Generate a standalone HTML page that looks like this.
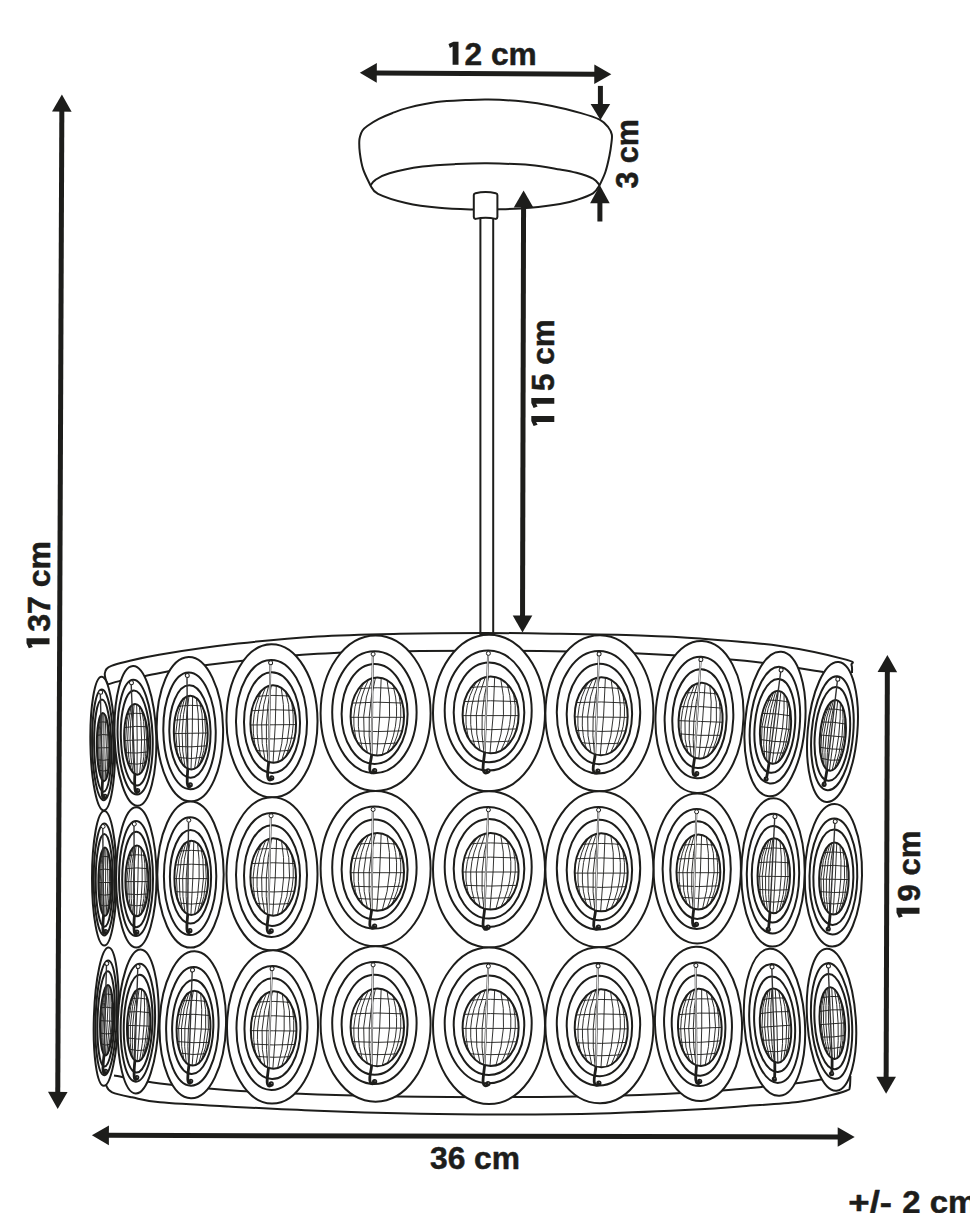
<!DOCTYPE html>
<html><head><meta charset="utf-8"><title>Lamp dimensions</title>
<style>html,body{margin:0;padding:0;background:#fff;}body{width:970px;height:1213px;overflow:hidden;font-family:"Liberation Sans",sans-serif;}svg{display:block;}</style>
</head><body>
<svg width="970" height="1213" viewBox="0 0 970 1213">
<rect width="970" height="1213" fill="#fff"/>
<path d="M370.5 185.6 C369.3 182.8 364.9 174.6 363.1 169.1 C361.3 163.6 360.4 157.3 359.8 152.6 C359.2 147.9 359.2 143.7 359.3 141.0 C359.4 138.3 359.6 137.9 360.1 136.2 C360.6 134.4 361.3 132.2 362.5 130.5 C363.7 128.8 364.6 127.9 367.3 126.0 C370.0 124.1 374.8 121.0 378.9 118.9 C383.0 116.8 387.2 115.0 392.0 113.2 C396.8 111.4 400.3 109.8 407.7 107.9 C415.1 106.1 427.0 103.4 436.6 102.1 C446.2 100.8 456.8 100.5 465.5 100.1 C474.2 99.7 479.0 99.3 488.6 99.5 C498.2 99.7 512.6 100.4 523.2 101.5 C533.8 102.6 542.4 104.0 552.0 105.9 C561.6 107.8 573.0 110.8 581.0 113.1 C589.0 115.4 595.1 117.3 599.7 119.7 C604.3 122.1 606.4 125.0 608.4 127.5 C610.4 130.0 611.3 132.0 611.8 134.5 C612.3 137.0 611.9 138.8 611.5 142.3 C611.1 145.8 610.5 150.6 609.5 155.5 C608.5 160.4 607.0 167.1 605.4 172.0 C603.8 176.9 600.6 183.0 599.6 185.2L599.6 185.2 C598.5 186.6 596.9 190.9 593.0 193.4 C589.1 195.9 582.0 198.2 576.5 200.0 C571.0 201.8 567.8 202.8 560.0 204.1 C552.2 205.4 540.0 206.9 530.0 207.8 C520.0 208.7 509.7 209.0 500.0 209.3 C490.3 209.6 482.2 209.8 472.0 209.5 C461.8 209.2 450.0 208.9 439.0 207.8 C428.0 206.7 416.2 205.2 406.0 202.9 C395.8 200.6 383.9 196.7 378.0 193.8 C372.1 190.9 371.8 187.0 370.5 185.6 Z" fill="#fff" stroke="#1d1d1b" stroke-width="2" stroke-linejoin="round"/>
<path d="M370.5 185.6 C371.3 184.6 372.3 181.9 375.5 179.8 C378.7 177.7 381.7 175.4 389.5 173.2 C397.3 171.0 411.5 168.1 422.5 166.6 C433.5 165.1 444.8 164.6 455.5 164.1 C466.2 163.6 474.6 163.2 487.0 163.3 C499.4 163.5 517.8 164.0 530.0 165.0 C542.2 166.0 552.2 168.2 560.0 169.5 C567.8 170.8 571.0 171.3 576.5 172.8 C582.0 174.3 589.1 176.5 593.0 178.6 C596.9 180.7 598.5 184.1 599.6 185.2" fill="none" stroke="#1d1d1b" stroke-width="2"/>
<rect x="480.4" y="216" width="12.8" height="418" fill="#fff" stroke="#1d1d1b" stroke-width="2"/>
<path d="M473.8 195 Q473.8 193.6 475.5 193.2 Q485.6 190.6 495.7 193.2 Q497.4 193.6 497.4 195 L497.4 217 Q497.4 218.6 495.7 218.9 Q485.6 216.4 475.5 218.9 Q473.8 218.6 473.8 217 Z" fill="#fff" stroke="#1d1d1b" stroke-width="2" stroke-linejoin="round"/>
<path d="M108.0 684.4 C107.6 683.5 106.1 680.8 105.6 679.0 C105.1 677.2 104.6 675.2 104.8 673.5 C105.0 671.8 105.4 670.3 106.5 669.0 C107.6 667.7 108.3 667.1 111.4 665.9 C114.5 664.7 117.1 663.9 125.0 662.0 C132.9 660.1 140.2 657.8 159.0 654.7 C177.8 651.6 211.6 646.6 238.0 643.6 C264.4 640.6 290.6 638.1 317.6 636.5 C344.6 634.9 372.1 634.4 400.0 633.8 C427.9 633.2 458.3 633.0 485.0 633.0 C511.7 633.0 534.2 633.4 560.0 633.8 C585.8 634.2 616.7 634.7 640.0 635.5 C663.3 636.3 676.7 636.8 700.0 638.5 C723.3 640.2 755.7 642.5 780.0 646.0 C804.3 649.5 834.1 656.4 846.0 659.6 C857.9 662.8 850.5 662.8 851.5 665.0 C852.5 667.2 851.9 671.7 852.0 673.0" fill="none" stroke="#1d1d1b" stroke-width="2"/>
<path d="M108.0 684.4 C109.9 683.9 113.5 682.5 119.3 681.1 C125.1 679.8 128.1 679.0 143.0 676.3 C157.9 673.6 179.6 668.5 208.7 664.8 C237.8 661.0 282.4 656.1 317.6 653.8 C352.8 651.5 382.9 651.5 420.0 651.0 C457.1 650.5 503.5 650.6 540.0 651.0 C576.5 651.4 604.8 651.8 639.0 653.4 C673.2 655.0 714.2 657.7 745.0 660.8 C775.8 663.9 810.6 670.1 823.7 672.0" fill="none" stroke="#1d1d1b" stroke-width="2"/>
<path d="M114.0 1075.5 C121.7 1076.8 141.3 1081.1 160.0 1083.5 C178.7 1085.9 199.7 1088.2 226.0 1090.0 C252.3 1091.8 285.3 1093.3 317.6 1094.4 C349.9 1095.5 382.9 1096.4 420.0 1096.8 C457.1 1097.2 503.3 1097.3 540.0 1097.0 C576.7 1096.7 613.3 1095.8 640.0 1095.0 C666.7 1094.2 683.3 1093.0 700.0 1092.0 C716.7 1091.0 729.7 1089.8 740.0 1089.0 C750.3 1088.2 752.2 1087.9 761.6 1086.9 C771.0 1086.0 786.7 1084.5 796.3 1083.3 C805.9 1082.1 810.4 1081.0 819.4 1079.7 C828.4 1078.4 844.9 1076.2 850.0 1075.5" fill="none" stroke="#1d1d1b" stroke-width="2"/>
<path d="M106.0 1076.0 C106.1 1077.6 105.4 1083.1 106.4 1085.8 C107.4 1088.5 107.9 1090.5 112.2 1092.4 C116.5 1094.3 124.0 1095.7 132.0 1097.3 C140.0 1098.9 143.9 1100.8 160.0 1102.3 C176.1 1103.8 202.2 1105.1 228.5 1106.5 C254.8 1107.9 285.7 1109.6 317.6 1110.8 C349.5 1112.0 389.6 1113.2 420.0 1113.8 C450.4 1114.4 470.0 1114.5 500.0 1114.5 C530.0 1114.5 566.7 1114.4 600.0 1113.5 C633.3 1112.6 676.7 1110.5 700.0 1109.3 C723.3 1108.1 723.7 1107.6 740.0 1106.4 C756.3 1105.2 783.3 1103.7 797.7 1102.0 C812.1 1100.3 818.4 1098.2 826.6 1096.3 C834.8 1094.4 842.9 1092.0 846.8 1090.5 C850.6 1089.0 849.1 1090.0 849.7 1087.6 C850.3 1085.2 850.3 1077.9 850.4 1076.0" fill="none" stroke="#1d1d1b" stroke-width="2"/>
<g transform="translate(102.7 743.6) rotate(-1.0)">
<ellipse rx="12.3" ry="66.8" fill="#fff" stroke="#1d1d1b" stroke-width="2.0"/>
<ellipse cx="0.0" cy="1.2" rx="10.6" ry="55.4" fill="none" stroke="#1d1d1b" stroke-width="2.0"/>
<ellipse cx="0.0" cy="2.1" rx="8.6" ry="46.1" fill="none" stroke="#1d1d1b" stroke-width="2.0"/>
<clipPath id="c1"><ellipse cx="0.6" cy="3.5" rx="6.5" ry="34.1"/></clipPath>
<ellipse cx="0.6" cy="3.5" rx="6.5" ry="34.1" fill="#fff" stroke="#1d1d1b" stroke-width="2.0"/>
<g clip-path="url(#c1)" fill="none" stroke="#1d1d1b" stroke-width="0.90">
<path d="M-5.9 -20.0 Q0.6 -23.4 7.1 -20.0"/>
<path d="M-5.9 -8.3 Q0.6 -9.8 7.1 -8.3"/>
<path d="M-5.9 4.2 Q0.6 4.2 7.1 4.2"/>
<path d="M-5.9 16.0 Q0.6 17.4 7.1 16.0"/>
<path d="M-5.9 26.1 Q0.6 28.8 7.1 26.1"/>
<path d="M-1.9 -30.6 Q-7.8 3.5 -3.0 37.6"/>
<path d="M-1.3 -30.6 Q-6.2 3.5 -2.4 37.6"/>
<path d="M-0.6 -30.6 Q-4.3 3.5 -1.7 37.6"/>
<path d="M0.2 -30.6 Q-2.3 3.5 -0.9 37.6"/>
<path d="M1.6 -30.6 Q1.4 3.5 0.5 37.6"/>
<path d="M2.9 -30.6 Q4.9 3.5 1.8 37.6"/>
<path d="M3.8 -30.6 Q7.3 3.5 2.7 37.6"/>
<path d="M4.4 -30.6 Q8.8 3.5 3.3 37.6"/>
</g>
<path d="M-1.5 -49.3 L-0.8 37.6" stroke="#333" stroke-width="1.40" fill="none"/>
<circle cx="-1.2" cy="-51.3" r="2.0" fill="#fff" stroke="#1d1d1b" stroke-width="1"/>
<path d="M-0.8 37.1 C-1.2 41.7 -1.7 47.8 -1.3 51.7 C-1.0 54.2 -0.3 55.3 1.0 54.2" stroke="#1d1d1b" stroke-width="2.8" fill="none" stroke-linecap="round"/>
<circle cx="1.3" cy="52.8" r="2.6" fill="#1d1d1b"/>
<circle cx="1.8" cy="52.3" r="0.6" fill="#888"/>
</g>
<g transform="translate(104.3 878.3) rotate(0.0)">
<ellipse rx="12.3" ry="67.3" fill="#fff" stroke="#1d1d1b" stroke-width="2.0"/>
<ellipse cx="0.0" cy="1.2" rx="10.6" ry="55.9" fill="none" stroke="#1d1d1b" stroke-width="2.0"/>
<ellipse cx="0.0" cy="2.1" rx="8.6" ry="46.4" fill="none" stroke="#1d1d1b" stroke-width="2.0"/>
<clipPath id="c2"><ellipse cx="0.6" cy="3.5" rx="6.5" ry="34.3"/></clipPath>
<ellipse cx="0.6" cy="3.5" rx="6.5" ry="34.3" fill="#fff" stroke="#1d1d1b" stroke-width="2.0"/>
<g clip-path="url(#c2)" fill="none" stroke="#1d1d1b" stroke-width="0.90">
<path d="M-5.9 -20.2 Q0.6 -23.6 7.1 -20.2"/>
<path d="M-5.9 -8.4 Q0.6 -9.9 7.1 -8.4"/>
<path d="M-5.9 4.2 Q0.6 4.2 7.1 4.2"/>
<path d="M-5.9 16.1 Q0.6 17.5 7.1 16.1"/>
<path d="M-5.9 26.3 Q0.6 29.0 7.1 26.3"/>
<path d="M-1.9 -30.8 Q-7.8 3.5 -3.0 37.8"/>
<path d="M-1.3 -30.8 Q-6.2 3.5 -2.4 37.8"/>
<path d="M-0.6 -30.8 Q-4.3 3.5 -1.7 37.8"/>
<path d="M0.2 -30.8 Q-2.3 3.5 -0.9 37.8"/>
<path d="M1.6 -30.8 Q1.4 3.5 0.5 37.8"/>
<path d="M2.9 -30.8 Q4.9 3.5 1.8 37.8"/>
<path d="M3.8 -30.8 Q7.3 3.5 2.7 37.8"/>
<path d="M4.4 -30.8 Q8.8 3.5 3.3 37.8"/>
</g>
<path d="M-1.5 -49.8 L-0.8 37.8" stroke="#333" stroke-width="1.40" fill="none"/>
<circle cx="-1.2" cy="-51.8" r="2.0" fill="#fff" stroke="#1d1d1b" stroke-width="1"/>
<path d="M-0.8 37.3 C-1.2 42.0 -1.7 48.2 -1.3 52.1 C-1.0 54.6 -0.3 55.8 1.0 54.6" stroke="#1d1d1b" stroke-width="2.8" fill="none" stroke-linecap="round"/>
<circle cx="1.3" cy="53.2" r="2.6" fill="#1d1d1b"/>
<circle cx="1.8" cy="52.7" r="0.6" fill="#888"/>
</g>
<g transform="translate(106.2 1016.7) rotate(2.0)">
<ellipse rx="12.3" ry="69.2" fill="#fff" stroke="#1d1d1b" stroke-width="2.0"/>
<ellipse cx="0.0" cy="1.2" rx="10.6" ry="57.4" fill="none" stroke="#1d1d1b" stroke-width="2.0"/>
<ellipse cx="0.0" cy="2.1" rx="8.6" ry="47.7" fill="none" stroke="#1d1d1b" stroke-width="2.0"/>
<clipPath id="c3"><ellipse cx="0.6" cy="3.5" rx="6.5" ry="35.3"/></clipPath>
<ellipse cx="0.6" cy="3.5" rx="6.5" ry="35.3" fill="#fff" stroke="#1d1d1b" stroke-width="2.0"/>
<g clip-path="url(#c3)" fill="none" stroke="#1d1d1b" stroke-width="0.90">
<path d="M-5.9 -20.9 Q0.6 -24.4 7.1 -20.9"/>
<path d="M-5.9 -8.7 Q0.6 -10.3 7.1 -8.7"/>
<path d="M-5.9 4.2 Q0.6 4.2 7.1 4.2"/>
<path d="M-5.9 16.5 Q0.6 17.9 7.1 16.5"/>
<path d="M-5.9 26.9 Q0.6 29.8 7.1 26.9"/>
<path d="M-1.9 -31.8 Q-7.8 3.5 -3.0 38.8"/>
<path d="M-1.3 -31.8 Q-6.2 3.5 -2.4 38.8"/>
<path d="M-0.6 -31.8 Q-4.3 3.5 -1.7 38.8"/>
<path d="M0.2 -31.8 Q-2.3 3.5 -0.9 38.8"/>
<path d="M1.6 -31.8 Q1.4 3.5 0.5 38.8"/>
<path d="M2.9 -31.8 Q4.9 3.5 1.8 38.8"/>
<path d="M3.8 -31.8 Q7.3 3.5 2.7 38.8"/>
<path d="M4.4 -31.8 Q8.8 3.5 3.3 38.8"/>
</g>
<path d="M-1.5 -51.3 L-0.8 38.8" stroke="#333" stroke-width="1.40" fill="none"/>
<circle cx="-1.2" cy="-53.3" r="2.0" fill="#fff" stroke="#1d1d1b" stroke-width="1"/>
<path d="M-0.8 38.3 C-1.2 43.1 -1.7 49.5 -1.3 53.5 C-1.0 56.2 -0.3 57.3 1.0 56.2" stroke="#1d1d1b" stroke-width="2.8" fill="none" stroke-linecap="round"/>
<circle cx="1.3" cy="54.7" r="2.6" fill="#1d1d1b"/>
<circle cx="1.8" cy="54.2" r="0.6" fill="#888"/>
</g>
<g transform="translate(832.5 732.0) rotate(5.0)">
<ellipse rx="24.8" ry="70.2" fill="#fff" stroke="#1d1d1b" stroke-width="2.0"/>
<ellipse cx="0.0" cy="1.2" rx="20.8" ry="57.2" fill="none" stroke="#1d1d1b" stroke-width="2.0"/>
<ellipse cx="0.0" cy="1.9" rx="17.4" ry="47.0" fill="none" stroke="#1d1d1b" stroke-width="2.0"/>
<clipPath id="c4"><ellipse cx="0.6" cy="3.3" rx="12.8" ry="35.5"/></clipPath>
<ellipse cx="0.6" cy="3.3" rx="12.8" ry="35.5" fill="#fff" stroke="#1d1d1b" stroke-width="2.0"/>
<g clip-path="url(#c4)" fill="none" stroke="#1d1d1b" stroke-width="0.90">
<path d="M-12.2 -21.2 Q0.6 -24.7 13.4 -21.2"/>
<path d="M-12.2 -9.0 Q0.6 -10.5 13.4 -9.0"/>
<path d="M-12.2 4.0 Q0.6 4.0 13.4 4.0"/>
<path d="M-12.2 16.3 Q0.6 17.7 13.4 16.3"/>
<path d="M-12.2 26.8 Q0.6 29.7 13.4 26.8"/>
<path d="M-4.3 -32.2 Q-15.9 3.3 -6.5 38.8"/>
<path d="M-3.1 -32.2 Q-12.8 3.3 -5.3 38.8"/>
<path d="M-1.7 -32.2 Q-9.1 3.3 -3.9 38.8"/>
<path d="M-0.3 -32.2 Q-5.2 3.3 -2.4 38.8"/>
<path d="M2.5 -32.2 Q2.1 3.3 0.3 38.8"/>
<path d="M5.1 -32.2 Q9.0 3.3 2.9 38.8"/>
<path d="M6.9 -32.2 Q13.8 3.3 4.8 38.8"/>
<path d="M8.1 -32.2 Q16.8 3.3 5.9 38.8"/>
</g>
<path d="M0.4 -51.1 L-2.2 38.8" stroke="#333" stroke-width="1.40" fill="none"/>
<circle cx="0.7" cy="-53.1" r="2.0" fill="#fff" stroke="#1d1d1b" stroke-width="1"/>
<path d="M-2.2 38.3 Q-2.6 45.6 -3.6 53.0" stroke="#1d1d1b" stroke-width="2.8" fill="none" stroke-linecap="round"/>
<circle cx="-3.8" cy="53.0" r="2.6" fill="#1d1d1b"/>
<circle cx="-3.3" cy="52.5" r="0.6" fill="#888"/>
</g>
<g transform="translate(833.4 875.3) rotate(1.0)">
<ellipse rx="28.6" ry="71.2" fill="#fff" stroke="#1d1d1b" stroke-width="2.0"/>
<ellipse cx="0.0" cy="1.2" rx="23.9" ry="58.0" fill="none" stroke="#1d1d1b" stroke-width="2.0"/>
<ellipse cx="0.0" cy="1.9" rx="20.0" ry="47.7" fill="none" stroke="#1d1d1b" stroke-width="2.0"/>
<clipPath id="c5"><ellipse cx="0.6" cy="3.3" rx="14.8" ry="36.0"/></clipPath>
<ellipse cx="0.6" cy="3.3" rx="14.8" ry="36.0" fill="#fff" stroke="#1d1d1b" stroke-width="2.0"/>
<g clip-path="url(#c5)" fill="none" stroke="#1d1d1b" stroke-width="0.90">
<path d="M-14.2 -21.5 Q0.6 -25.1 15.4 -21.5"/>
<path d="M-14.2 -9.1 Q0.6 -10.7 15.4 -9.1"/>
<path d="M-14.2 4.0 Q0.6 4.0 15.4 4.0"/>
<path d="M-14.2 16.5 Q0.6 17.9 15.4 16.5"/>
<path d="M-14.2 27.2 Q0.6 30.1 15.4 27.2"/>
<path d="M-5.1 -32.7 Q-18.5 3.3 -7.6 39.3"/>
<path d="M-3.7 -32.7 Q-14.8 3.3 -6.2 39.3"/>
<path d="M-2.1 -32.7 Q-10.5 3.3 -4.6 39.3"/>
<path d="M-0.4 -32.7 Q-6.0 3.3 -2.9 39.3"/>
<path d="M2.8 -32.7 Q2.3 3.3 0.3 39.3"/>
<path d="M5.8 -32.7 Q10.3 3.3 3.3 39.3"/>
<path d="M7.9 -32.7 Q15.8 3.3 5.4 39.3"/>
<path d="M9.2 -32.7 Q19.3 3.3 6.7 39.3"/>
</g>
<path d="M0.6 -51.9 L-2.6 39.3" stroke="#333" stroke-width="1.40" fill="none"/>
<circle cx="0.9" cy="-53.9" r="2.0" fill="#fff" stroke="#1d1d1b" stroke-width="1"/>
<path d="M-2.6 38.8 Q-3.0 46.3 -4.0 53.8" stroke="#1d1d1b" stroke-width="2.8" fill="none" stroke-linecap="round"/>
<circle cx="-4.2" cy="53.8" r="2.6" fill="#1d1d1b"/>
<circle cx="-3.7" cy="53.3" r="0.6" fill="#888"/>
</g>
<g transform="translate(831.5 1019.8) rotate(-4.0)">
<ellipse rx="24.3" ry="71.2" fill="#fff" stroke="#1d1d1b" stroke-width="2.0"/>
<ellipse cx="0.0" cy="1.2" rx="20.3" ry="58.0" fill="none" stroke="#1d1d1b" stroke-width="2.0"/>
<ellipse cx="0.0" cy="1.9" rx="17.0" ry="47.7" fill="none" stroke="#1d1d1b" stroke-width="2.0"/>
<clipPath id="c6"><ellipse cx="0.6" cy="3.3" rx="12.6" ry="36.0"/></clipPath>
<ellipse cx="0.6" cy="3.3" rx="12.6" ry="36.0" fill="#fff" stroke="#1d1d1b" stroke-width="2.0"/>
<g clip-path="url(#c6)" fill="none" stroke="#1d1d1b" stroke-width="0.90">
<path d="M-12.0 -21.5 Q0.6 -25.1 13.2 -21.5"/>
<path d="M-12.0 -9.1 Q0.6 -10.7 13.2 -9.1"/>
<path d="M-12.0 4.0 Q0.6 4.0 13.2 4.0"/>
<path d="M-12.0 16.5 Q0.6 17.9 13.2 16.5"/>
<path d="M-12.0 27.2 Q0.6 30.1 13.2 27.2"/>
<path d="M-4.2 -32.7 Q-15.6 3.3 -6.4 39.3"/>
<path d="M-3.1 -32.7 Q-12.5 3.3 -5.2 39.3"/>
<path d="M-1.7 -32.7 Q-8.9 3.3 -3.8 39.3"/>
<path d="M-0.2 -32.7 Q-5.0 3.3 -2.4 39.3"/>
<path d="M2.5 -32.7 Q2.1 3.3 0.3 39.3"/>
<path d="M5.0 -32.7 Q8.8 3.3 2.9 39.3"/>
<path d="M6.8 -32.7 Q13.5 3.3 4.7 39.3"/>
<path d="M7.9 -32.7 Q16.5 3.3 5.8 39.3"/>
</g>
<path d="M0.4 -51.9 L-2.1 39.3" stroke="#333" stroke-width="1.40" fill="none"/>
<circle cx="0.7" cy="-53.9" r="2.0" fill="#fff" stroke="#1d1d1b" stroke-width="1"/>
<path d="M-2.1 38.8 Q-2.5 46.3 -3.5 53.8" stroke="#1d1d1b" stroke-width="2.8" fill="none" stroke-linecap="round"/>
<circle cx="-3.7" cy="53.8" r="2.6" fill="#1d1d1b"/>
<circle cx="-3.2" cy="53.3" r="0.6" fill="#888"/>
</g>
<g transform="translate(135.4 735.9) rotate(-2.0)">
<ellipse rx="20.8" ry="70.0" fill="#fff" stroke="#1d1d1b" stroke-width="2.0"/>
<ellipse cx="-0.3" cy="1.2" rx="17.5" ry="57.4" fill="none" stroke="#1d1d1b" stroke-width="2.0"/>
<ellipse cx="0.0" cy="2.1" rx="14.6" ry="47.6" fill="none" stroke="#1d1d1b" stroke-width="2.0"/>
<clipPath id="c7"><ellipse cx="0.6" cy="3.5" rx="11.9" ry="35.3"/></clipPath>
<ellipse cx="0.6" cy="3.5" rx="11.9" ry="35.3" fill="#fff" stroke="#1d1d1b" stroke-width="2.0"/>
<g clip-path="url(#c7)" fill="none" stroke="#1d1d1b" stroke-width="0.90">
<path d="M-11.3 -20.8 Q0.6 -24.4 12.5 -20.8"/>
<path d="M-11.3 -8.7 Q0.6 -10.3 12.5 -8.7"/>
<path d="M-11.3 4.2 Q0.6 4.2 12.5 4.2"/>
<path d="M-11.3 16.4 Q0.6 17.9 12.5 16.4"/>
<path d="M-11.3 26.9 Q0.6 29.7 12.5 26.9"/>
<path d="M-4.0 -31.8 Q-14.7 3.5 -6.0 38.8"/>
<path d="M-2.9 -31.8 Q-11.8 3.5 -4.9 38.8"/>
<path d="M-1.6 -31.8 Q-8.3 3.5 -3.6 38.8"/>
<path d="M-0.2 -31.8 Q-4.7 3.5 -2.2 38.8"/>
<path d="M2.4 -31.8 Q2.0 3.5 0.3 38.8"/>
<path d="M4.8 -31.8 Q8.3 3.5 2.8 38.8"/>
<path d="M6.5 -31.8 Q12.8 3.5 4.4 38.8"/>
<path d="M7.5 -31.8 Q15.6 3.5 5.5 38.8"/>
</g>
<path d="M-2.4 -51.3 L-1.9 38.8" stroke="#333" stroke-width="1.40" fill="none"/>
<circle cx="-2.1" cy="-53.3" r="2.0" fill="#fff" stroke="#1d1d1b" stroke-width="1"/>
<path d="M-1.9 38.3 C-2.3 43.2 -2.6 49.5 -2.2 53.5 C-1.9 56.2 -1.1 57.4 0.2 56.2" stroke="#1d1d1b" stroke-width="2.8" fill="none" stroke-linecap="round"/>
<circle cx="0.4" cy="54.7" r="2.6" fill="#1d1d1b"/>
<circle cx="0.9" cy="54.2" r="0.6" fill="#888"/>
</g>
<g transform="translate(136.3 877.4) rotate(0.0)">
<ellipse rx="20.2" ry="70.1" fill="#fff" stroke="#1d1d1b" stroke-width="2.0"/>
<ellipse cx="-0.3" cy="1.2" rx="17.0" ry="57.5" fill="none" stroke="#1d1d1b" stroke-width="2.0"/>
<ellipse cx="0.0" cy="2.1" rx="14.1" ry="47.7" fill="none" stroke="#1d1d1b" stroke-width="2.0"/>
<clipPath id="c8"><ellipse cx="0.6" cy="3.5" rx="11.5" ry="35.3"/></clipPath>
<ellipse cx="0.6" cy="3.5" rx="11.5" ry="35.3" fill="#fff" stroke="#1d1d1b" stroke-width="2.0"/>
<g clip-path="url(#c8)" fill="none" stroke="#1d1d1b" stroke-width="0.90">
<path d="M-10.9 -20.9 Q0.6 -24.4 12.1 -20.9"/>
<path d="M-10.9 -8.7 Q0.6 -10.3 12.1 -8.7"/>
<path d="M-10.9 4.2 Q0.6 4.2 12.1 4.2"/>
<path d="M-10.9 16.5 Q0.6 17.9 12.1 16.5"/>
<path d="M-10.9 27.0 Q0.6 29.8 12.1 27.0"/>
<path d="M-3.8 -31.8 Q-14.2 3.5 -5.8 38.8"/>
<path d="M-2.8 -31.8 Q-11.4 3.5 -4.7 38.8"/>
<path d="M-1.5 -31.8 Q-8.1 3.5 -3.5 38.8"/>
<path d="M-0.2 -31.8 Q-4.6 3.5 -2.1 38.8"/>
<path d="M2.3 -31.8 Q1.9 3.5 0.3 38.8"/>
<path d="M4.6 -31.8 Q8.1 3.5 2.7 38.8"/>
<path d="M6.3 -31.8 Q12.5 3.5 4.3 38.8"/>
<path d="M7.3 -31.8 Q15.1 3.5 5.3 38.8"/>
</g>
<path d="M-2.3 -51.4 L-1.9 38.8" stroke="#333" stroke-width="1.40" fill="none"/>
<circle cx="-2.0" cy="-53.4" r="2.0" fill="#fff" stroke="#1d1d1b" stroke-width="1"/>
<path d="M-1.9 38.3 C-2.3 43.2 -2.5 49.6 -2.1 53.6 C-1.8 56.3 -1.1 57.4 0.2 56.3" stroke="#1d1d1b" stroke-width="2.8" fill="none" stroke-linecap="round"/>
<circle cx="0.5" cy="54.7" r="2.6" fill="#1d1d1b"/>
<circle cx="1.0" cy="54.2" r="0.6" fill="#888"/>
</g>
<g transform="translate(138.2 1021.5) rotate(2.0)">
<ellipse rx="20.4" ry="72.0" fill="#fff" stroke="#1d1d1b" stroke-width="2.0"/>
<ellipse cx="-0.3" cy="1.2" rx="17.1" ry="59.0" fill="none" stroke="#1d1d1b" stroke-width="2.0"/>
<ellipse cx="0.0" cy="2.1" rx="14.3" ry="49.0" fill="none" stroke="#1d1d1b" stroke-width="2.0"/>
<clipPath id="c9"><ellipse cx="0.6" cy="3.5" rx="11.6" ry="36.3"/></clipPath>
<ellipse cx="0.6" cy="3.5" rx="11.6" ry="36.3" fill="#fff" stroke="#1d1d1b" stroke-width="2.0"/>
<g clip-path="url(#c9)" fill="none" stroke="#1d1d1b" stroke-width="0.90">
<path d="M-11.0 -21.5 Q0.6 -25.2 12.2 -21.5"/>
<path d="M-11.0 -9.1 Q0.6 -10.7 12.2 -9.1"/>
<path d="M-11.0 4.2 Q0.6 4.2 12.2 4.2"/>
<path d="M-11.0 16.8 Q0.6 18.3 12.2 16.8"/>
<path d="M-11.0 27.6 Q0.6 30.5 12.2 27.6"/>
<path d="M-3.9 -32.8 Q-14.4 3.5 -5.9 39.8"/>
<path d="M-2.8 -32.8 Q-11.5 3.5 -4.8 39.8"/>
<path d="M-1.5 -32.8 Q-8.2 3.5 -3.5 39.8"/>
<path d="M-0.2 -32.8 Q-4.6 3.5 -2.2 39.8"/>
<path d="M2.3 -32.8 Q2.0 3.5 0.3 39.8"/>
<path d="M4.7 -32.8 Q8.2 3.5 2.7 39.8"/>
<path d="M6.4 -32.8 Q12.6 3.5 4.4 39.8"/>
<path d="M7.4 -32.8 Q15.3 3.5 5.4 39.8"/>
</g>
<path d="M-2.3 -52.9 L-1.9 39.8" stroke="#333" stroke-width="1.40" fill="none"/>
<circle cx="-2.0" cy="-54.9" r="2.0" fill="#fff" stroke="#1d1d1b" stroke-width="1"/>
<path d="M-1.9 39.3 C-2.3 44.3 -2.5 50.9 -2.1 55.0 C-1.8 57.8 -1.1 59.0 0.2 57.8" stroke="#1d1d1b" stroke-width="2.8" fill="none" stroke-linecap="round"/>
<circle cx="0.5" cy="56.2" r="2.6" fill="#1d1d1b"/>
<circle cx="1.0" cy="55.7" r="0.6" fill="#888"/>
</g>
<g transform="translate(775.0 724.0) rotate(5.0)">
<ellipse rx="30.0" ry="72.5" fill="#fff" stroke="#1d1d1b" stroke-width="2.0"/>
<ellipse cx="0.0" cy="1.2" rx="24.8" ry="58.5" fill="none" stroke="#1d1d1b" stroke-width="2.0"/>
<ellipse cx="0.0" cy="1.9" rx="20.1" ry="47.1" fill="none" stroke="#1d1d1b" stroke-width="2.0"/>
<clipPath id="c10"><ellipse cx="0.8" cy="3.3" rx="15.3" ry="36.6"/></clipPath>
<ellipse cx="0.8" cy="3.3" rx="15.3" ry="36.6" fill="#fff" stroke="#1d1d1b" stroke-width="2.0"/>
<g clip-path="url(#c10)" fill="none" stroke="#1d1d1b" stroke-width="0.90">
<path d="M-14.5 -22.0 Q0.8 -25.6 16.1 -22.0"/>
<path d="M-14.5 -9.4 Q0.8 -11.0 16.1 -9.4"/>
<path d="M-14.5 4.0 Q0.8 4.0 16.1 4.0"/>
<path d="M-14.5 16.7 Q0.8 18.2 16.1 16.7"/>
<path d="M-14.5 27.6 Q0.8 30.5 16.1 27.6"/>
<path d="M-5.1 -33.3 Q-18.9 3.3 -7.7 39.9"/>
<path d="M-3.7 -33.3 Q-15.2 3.3 -6.3 39.9"/>
<path d="M-2.0 -33.3 Q-10.7 3.3 -4.6 39.9"/>
<path d="M-0.2 -33.3 Q-6.1 3.3 -2.8 39.9"/>
<path d="M3.1 -33.3 Q2.6 3.3 0.5 39.9"/>
<path d="M6.2 -33.3 Q10.8 3.3 3.6 39.9"/>
<path d="M8.4 -33.3 Q16.6 3.3 5.8 39.9"/>
<path d="M9.7 -33.3 Q20.1 3.3 7.1 39.9"/>
</g>
<path d="M1.1 -52.4 L-2.5 39.9" stroke="#333" stroke-width="1.40" fill="none"/>
<circle cx="1.4" cy="-54.4" r="2.0" fill="#fff" stroke="#1d1d1b" stroke-width="1"/>
<path d="M-2.5 39.4 Q-2.9 47.6 -3.9 55.8" stroke="#1d1d1b" stroke-width="2.8" fill="none" stroke-linecap="round"/>
<circle cx="-4.1" cy="55.8" r="2.6" fill="#1d1d1b"/>
<circle cx="-3.6" cy="55.3" r="0.6" fill="#888"/>
</g>
<g transform="translate(773.0 872.4) rotate(0.5)">
<ellipse rx="31.7" ry="74.2" fill="#fff" stroke="#1d1d1b" stroke-width="2.0"/>
<ellipse cx="0.0" cy="1.2" rx="26.2" ry="59.9" fill="none" stroke="#1d1d1b" stroke-width="2.0"/>
<ellipse cx="0.0" cy="1.9" rx="21.2" ry="48.2" fill="none" stroke="#1d1d1b" stroke-width="2.0"/>
<clipPath id="c11"><ellipse cx="0.8" cy="3.3" rx="16.2" ry="37.5"/></clipPath>
<ellipse cx="0.8" cy="3.3" rx="16.2" ry="37.5" fill="#fff" stroke="#1d1d1b" stroke-width="2.0"/>
<g clip-path="url(#c11)" fill="none" stroke="#1d1d1b" stroke-width="0.90">
<path d="M-15.4 -22.6 Q0.8 -26.3 17.0 -22.6"/>
<path d="M-15.4 -9.7 Q0.8 -11.3 17.0 -9.7"/>
<path d="M-15.4 4.0 Q0.8 4.0 17.0 4.0"/>
<path d="M-15.4 17.1 Q0.8 18.6 17.0 17.1"/>
<path d="M-15.4 28.2 Q0.8 31.2 17.0 28.2"/>
<path d="M-5.4 -34.2 Q-20.0 3.3 -8.2 40.8"/>
<path d="M-3.9 -34.2 Q-16.1 3.3 -6.7 40.8"/>
<path d="M-2.1 -34.2 Q-11.4 3.3 -4.9 40.8"/>
<path d="M-0.3 -34.2 Q-6.5 3.3 -3.0 40.8"/>
<path d="M3.2 -34.2 Q2.7 3.3 0.4 40.8"/>
<path d="M6.5 -34.2 Q11.4 3.3 3.7 40.8"/>
<path d="M8.8 -34.2 Q17.5 3.3 6.0 40.8"/>
<path d="M10.2 -34.2 Q21.2 3.3 7.5 40.8"/>
</g>
<path d="M1.2 -53.8 L-2.7 40.8" stroke="#333" stroke-width="1.40" fill="none"/>
<circle cx="1.5" cy="-55.8" r="2.0" fill="#fff" stroke="#1d1d1b" stroke-width="1"/>
<path d="M-2.7 40.3 Q-3.1 48.7 -4.1 57.1" stroke="#1d1d1b" stroke-width="2.8" fill="none" stroke-linecap="round"/>
<circle cx="-4.3" cy="57.1" r="2.6" fill="#1d1d1b"/>
<circle cx="-3.8" cy="56.6" r="0.6" fill="#888"/>
</g>
<g transform="translate(774.5 1022.3) rotate(-4.0)">
<ellipse rx="30.3" ry="73.7" fill="#fff" stroke="#1d1d1b" stroke-width="2.0"/>
<ellipse cx="0.0" cy="1.2" rx="25.1" ry="59.5" fill="none" stroke="#1d1d1b" stroke-width="2.0"/>
<ellipse cx="0.0" cy="1.9" rx="20.3" ry="47.9" fill="none" stroke="#1d1d1b" stroke-width="2.0"/>
<clipPath id="c12"><ellipse cx="0.8" cy="3.3" rx="15.5" ry="37.2"/></clipPath>
<ellipse cx="0.8" cy="3.3" rx="15.5" ry="37.2" fill="#fff" stroke="#1d1d1b" stroke-width="2.0"/>
<g clip-path="url(#c12)" fill="none" stroke="#1d1d1b" stroke-width="0.90">
<path d="M-14.7 -22.4 Q0.8 -26.1 16.3 -22.4"/>
<path d="M-14.7 -9.6 Q0.8 -11.2 16.3 -9.6"/>
<path d="M-14.7 4.0 Q0.8 4.0 16.3 4.0"/>
<path d="M-14.7 17.0 Q0.8 18.4 16.3 17.0"/>
<path d="M-14.7 28.0 Q0.8 31.0 16.3 28.0"/>
<path d="M-5.2 -33.9 Q-19.1 3.3 -7.8 40.5"/>
<path d="M-3.7 -33.9 Q-15.3 3.3 -6.3 40.5"/>
<path d="M-2.0 -33.9 Q-10.8 3.3 -4.6 40.5"/>
<path d="M-0.2 -33.9 Q-6.1 3.3 -2.9 40.5"/>
<path d="M3.1 -33.9 Q2.6 3.3 0.5 40.5"/>
<path d="M6.2 -33.9 Q10.9 3.3 3.6 40.5"/>
<path d="M8.4 -33.9 Q16.7 3.3 5.8 40.5"/>
<path d="M9.8 -33.9 Q20.3 3.3 7.2 40.5"/>
</g>
<path d="M1.1 -53.4 L-2.5 40.5" stroke="#333" stroke-width="1.40" fill="none"/>
<circle cx="1.4" cy="-55.4" r="2.0" fill="#fff" stroke="#1d1d1b" stroke-width="1"/>
<path d="M-2.5 40.0 Q-2.9 48.4 -3.9 56.7" stroke="#1d1d1b" stroke-width="2.8" fill="none" stroke-linecap="round"/>
<circle cx="-4.1" cy="56.7" r="2.6" fill="#1d1d1b"/>
<circle cx="-3.6" cy="56.2" r="0.6" fill="#888"/>
</g>
<g transform="translate(189.9 729.3) rotate(-1.0)">
<ellipse rx="33.2" ry="72.2" fill="#fff" stroke="#1d1d1b" stroke-width="2.0"/>
<ellipse cx="-0.4" cy="1.6" rx="26.2" ry="58.3" fill="none" stroke="#1d1d1b" stroke-width="2.0"/>
<ellipse cx="0.0" cy="2.2" rx="20.6" ry="46.2" fill="none" stroke="#1d1d1b" stroke-width="2.0"/>
<clipPath id="c13"><ellipse cx="0.8" cy="3.3" rx="16.9" ry="36.8"/></clipPath>
<ellipse cx="0.8" cy="3.3" rx="16.9" ry="36.8" fill="#fff" stroke="#1d1d1b" stroke-width="2.0"/>
<g clip-path="url(#c13)" fill="none" stroke="#1d1d1b" stroke-width="0.90">
<path d="M-16.1 -22.1 Q0.8 -25.8 17.7 -22.1"/>
<path d="M-16.1 -9.4 Q0.8 -11.1 17.7 -9.4"/>
<path d="M-16.1 4.0 Q0.8 4.0 17.7 4.0"/>
<path d="M-16.1 16.8 Q0.8 18.3 17.7 16.8"/>
<path d="M-16.1 27.7 Q0.8 30.7 17.7 27.7"/>
<path d="M-5.7 -33.5 Q-21.0 3.3 -8.6 40.1"/>
<path d="M-4.1 -33.5 Q-16.9 3.3 -7.0 40.1"/>
<path d="M-2.3 -33.5 Q-11.9 3.3 -5.2 40.1"/>
<path d="M-0.3 -33.5 Q-6.8 3.3 -3.2 40.1"/>
<path d="M3.3 -33.5 Q2.8 3.3 0.4 40.1"/>
<path d="M6.8 -33.5 Q11.9 3.3 3.9 40.1"/>
<path d="M9.2 -33.5 Q18.2 3.3 6.3 40.1"/>
<path d="M10.7 -33.5 Q22.2 3.3 7.8 40.1"/>
</g>
<path d="M-2.0 -51.8 L-2.8 40.1" stroke="#333" stroke-width="1.40" fill="none"/>
<circle cx="-1.7" cy="-53.8" r="2.0" fill="#fff" stroke="#1d1d1b" stroke-width="1"/>
<path d="M-2.8 39.6 C-3.2 44.7 -3.9 50.2 -3.5 54.3 C-3.2 57.1 -2.3 58.3 -0.9 57.1" stroke="#1d1d1b" stroke-width="2.8" fill="none" stroke-linecap="round"/>
<circle cx="-0.6" cy="55.5" r="2.6" fill="#1d1d1b"/>
<circle cx="-0.1" cy="55.0" r="0.6" fill="#888"/>
</g>
<g transform="translate(190.5 874.6) rotate(0.0)">
<ellipse rx="33.2" ry="73.0" fill="#fff" stroke="#1d1d1b" stroke-width="2.0"/>
<ellipse cx="-0.4" cy="1.6" rx="26.2" ry="58.9" fill="none" stroke="#1d1d1b" stroke-width="2.0"/>
<ellipse cx="0.0" cy="2.2" rx="20.6" ry="46.7" fill="none" stroke="#1d1d1b" stroke-width="2.0"/>
<clipPath id="c14"><ellipse cx="0.8" cy="3.3" rx="16.9" ry="37.2"/></clipPath>
<ellipse cx="0.8" cy="3.3" rx="16.9" ry="37.2" fill="#fff" stroke="#1d1d1b" stroke-width="2.0"/>
<g clip-path="url(#c14)" fill="none" stroke="#1d1d1b" stroke-width="0.90">
<path d="M-16.1 -22.4 Q0.8 -26.1 17.7 -22.4"/>
<path d="M-16.1 -9.6 Q0.8 -11.2 17.7 -9.6"/>
<path d="M-16.1 4.0 Q0.8 4.0 17.7 4.0"/>
<path d="M-16.1 17.0 Q0.8 18.5 17.7 17.0"/>
<path d="M-16.1 28.0 Q0.8 31.0 17.7 28.0"/>
<path d="M-5.7 -33.9 Q-21.0 3.3 -8.6 40.5"/>
<path d="M-4.1 -33.9 Q-16.9 3.3 -7.0 40.5"/>
<path d="M-2.3 -33.9 Q-11.9 3.3 -5.2 40.5"/>
<path d="M-0.3 -33.9 Q-6.8 3.3 -3.2 40.5"/>
<path d="M3.3 -33.9 Q2.8 3.3 0.4 40.5"/>
<path d="M6.8 -33.9 Q11.9 3.3 3.9 40.5"/>
<path d="M9.2 -33.9 Q18.2 3.3 6.3 40.5"/>
<path d="M10.7 -33.9 Q22.2 3.3 7.8 40.5"/>
</g>
<path d="M-2.0 -52.4 L-2.8 40.5" stroke="#333" stroke-width="1.40" fill="none"/>
<circle cx="-1.7" cy="-54.4" r="2.0" fill="#fff" stroke="#1d1d1b" stroke-width="1"/>
<path d="M-2.8 40.0 C-3.2 45.1 -3.9 50.7 -3.5 54.9 C-3.2 57.7 -2.3 58.9 -0.9 57.7" stroke="#1d1d1b" stroke-width="2.8" fill="none" stroke-linecap="round"/>
<circle cx="-0.6" cy="56.1" r="2.6" fill="#1d1d1b"/>
<circle cx="-0.1" cy="55.6" r="0.6" fill="#888"/>
</g>
<g transform="translate(192.8 1024.8) rotate(1.5)">
<ellipse rx="33.2" ry="73.5" fill="#fff" stroke="#1d1d1b" stroke-width="2.0"/>
<ellipse cx="-0.4" cy="1.6" rx="26.2" ry="59.3" fill="none" stroke="#1d1d1b" stroke-width="2.0"/>
<ellipse cx="0.0" cy="2.2" rx="20.6" ry="47.0" fill="none" stroke="#1d1d1b" stroke-width="2.0"/>
<clipPath id="c15"><ellipse cx="0.8" cy="3.3" rx="16.9" ry="37.5"/></clipPath>
<ellipse cx="0.8" cy="3.3" rx="16.9" ry="37.5" fill="#fff" stroke="#1d1d1b" stroke-width="2.0"/>
<g clip-path="url(#c15)" fill="none" stroke="#1d1d1b" stroke-width="0.90">
<path d="M-16.1 -22.6 Q0.8 -26.3 17.7 -22.6"/>
<path d="M-16.1 -9.7 Q0.8 -11.3 17.7 -9.7"/>
<path d="M-16.1 4.0 Q0.8 4.0 17.7 4.0"/>
<path d="M-16.1 17.1 Q0.8 18.6 17.7 17.1"/>
<path d="M-16.1 28.2 Q0.8 31.2 17.7 28.2"/>
<path d="M-5.7 -34.2 Q-21.0 3.3 -8.6 40.8"/>
<path d="M-4.1 -34.2 Q-16.9 3.3 -7.0 40.8"/>
<path d="M-2.3 -34.2 Q-11.9 3.3 -5.2 40.8"/>
<path d="M-0.3 -34.2 Q-6.8 3.3 -3.2 40.8"/>
<path d="M3.3 -34.2 Q2.8 3.3 0.4 40.8"/>
<path d="M6.8 -34.2 Q11.9 3.3 3.9 40.8"/>
<path d="M9.2 -34.2 Q18.2 3.3 6.3 40.8"/>
<path d="M10.7 -34.2 Q22.2 3.3 7.8 40.8"/>
</g>
<path d="M-2.0 -52.8 L-2.8 40.8" stroke="#333" stroke-width="1.40" fill="none"/>
<circle cx="-1.7" cy="-54.8" r="2.0" fill="#fff" stroke="#1d1d1b" stroke-width="1"/>
<path d="M-2.8 40.3 C-3.2 45.4 -3.9 51.1 -3.5 55.3 C-3.2 58.1 -2.3 59.4 -0.9 58.1" stroke="#1d1d1b" stroke-width="2.8" fill="none" stroke-linecap="round"/>
<circle cx="-0.6" cy="56.5" r="2.6" fill="#1d1d1b"/>
<circle cx="-0.1" cy="56.0" r="0.6" fill="#888"/>
</g>
<g transform="translate(699.5 717.0) rotate(2.0)">
<ellipse rx="44.0" ry="76.0" fill="#fff" stroke="#1d1d1b" stroke-width="2.0"/>
<ellipse cx="-0.5" cy="0.5" rx="34.3" ry="60.8" fill="none" stroke="#1d1d1b" stroke-width="2.0"/>
<ellipse cx="0.0" cy="1.7" rx="27.1" ry="49.4" fill="none" stroke="#1d1d1b" stroke-width="2.0"/>
<clipPath id="c16"><ellipse cx="1.2" cy="3.6" rx="22.0" ry="38.0"/></clipPath>
<ellipse cx="1.2" cy="3.6" rx="22.0" ry="38.0" fill="#fff" stroke="#1d1d1b" stroke-width="2.0"/>
<g clip-path="url(#c16)" fill="none" stroke="#1d1d1b" stroke-width="0.90">
<path d="M-20.8 -22.6 Q1.2 -26.4 23.2 -22.6"/>
<path d="M-20.8 -9.6 Q1.2 -11.2 23.2 -9.6"/>
<path d="M-20.8 4.4 Q1.2 4.4 23.2 4.4"/>
<path d="M-20.8 17.5 Q1.2 19.1 23.2 17.5"/>
<path d="M-20.8 28.8 Q1.2 31.9 23.2 28.8"/>
<path d="M-7.3 -34.4 Q-27.2 3.6 -11.0 41.6"/>
<path d="M-5.2 -34.4 Q-21.7 3.6 -9.0 41.6"/>
<path d="M-2.8 -34.4 Q-15.4 3.6 -6.5 41.6"/>
<path d="M-0.3 -34.4 Q-8.7 3.6 -4.0 41.6"/>
<path d="M4.5 -34.4 Q3.8 3.6 0.7 41.6"/>
<path d="M8.9 -34.4 Q15.6 3.6 5.2 41.6"/>
<path d="M12.1 -34.4 Q23.9 3.6 8.3 41.6"/>
<path d="M14.0 -34.4 Q29.0 3.6 10.3 41.6"/>
</g>
<path d="M-0.9 -55.4 L-3.5 41.6" stroke="#333" stroke-width="2.00" fill="none"/>
<path d="M-0.9 -55.4 L-3.5 40.6" stroke="#fff" stroke-width="0.90" fill="none"/>
<circle cx="-0.6" cy="-57.4" r="2.0" fill="#fff" stroke="#1d1d1b" stroke-width="1"/>
<path d="M-3.5 41.1 C-3.9 46.4 -5.0 51.0 -4.6 55.4 C-4.3 58.3 -3.1 59.5 -1.2 58.3" stroke="#1d1d1b" stroke-width="2.8" fill="none" stroke-linecap="round"/>
<circle cx="-0.8" cy="56.6" r="2.6" fill="#1d1d1b"/>
<circle cx="-0.3" cy="56.1" r="0.6" fill="#888"/>
</g>
<g transform="translate(697.2 868.4) rotate(0.0)">
<ellipse rx="43.7" ry="75.0" fill="#fff" stroke="#1d1d1b" stroke-width="2.0"/>
<ellipse cx="-0.5" cy="0.5" rx="34.1" ry="60.0" fill="none" stroke="#1d1d1b" stroke-width="2.0"/>
<ellipse cx="0.0" cy="1.7" rx="26.9" ry="48.8" fill="none" stroke="#1d1d1b" stroke-width="2.0"/>
<clipPath id="c17"><ellipse cx="1.2" cy="3.6" rx="21.9" ry="37.5"/></clipPath>
<ellipse cx="1.2" cy="3.6" rx="21.9" ry="37.5" fill="#fff" stroke="#1d1d1b" stroke-width="2.0"/>
<g clip-path="url(#c17)" fill="none" stroke="#1d1d1b" stroke-width="0.90">
<path d="M-20.7 -22.3 Q1.2 -26.0 23.1 -22.3"/>
<path d="M-20.7 -9.4 Q1.2 -11.0 23.1 -9.4"/>
<path d="M-20.7 4.3 Q1.2 4.3 23.1 4.3"/>
<path d="M-20.7 17.4 Q1.2 18.9 23.1 17.4"/>
<path d="M-20.7 28.5 Q1.2 31.5 23.1 28.5"/>
<path d="M-7.2 -33.9 Q-27.0 3.6 -10.9 41.1"/>
<path d="M-5.2 -33.9 Q-21.6 3.6 -8.9 41.1"/>
<path d="M-2.8 -33.9 Q-15.3 3.6 -6.5 41.1"/>
<path d="M-0.3 -33.9 Q-8.6 3.6 -4.0 41.1"/>
<path d="M4.4 -33.9 Q3.8 3.6 0.7 41.1"/>
<path d="M8.9 -33.9 Q15.5 3.6 5.2 41.1"/>
<path d="M12.0 -33.9 Q23.7 3.6 8.3 41.1"/>
<path d="M13.9 -33.9 Q28.8 3.6 10.2 41.1"/>
</g>
<path d="M-0.9 -54.6 L-3.5 41.1" stroke="#333" stroke-width="2.00" fill="none"/>
<path d="M-0.9 -54.6 L-3.5 40.1" stroke="#fff" stroke-width="0.90" fill="none"/>
<circle cx="-0.6" cy="-56.6" r="2.0" fill="#fff" stroke="#1d1d1b" stroke-width="1"/>
<path d="M-3.5 40.6 C-3.9 45.9 -5.0 50.3 -4.6 54.6 C-4.3 57.5 -3.1 58.8 -1.2 57.5" stroke="#1d1d1b" stroke-width="2.8" fill="none" stroke-linecap="round"/>
<circle cx="-0.8" cy="55.9" r="2.6" fill="#1d1d1b"/>
<circle cx="-0.3" cy="55.4" r="0.6" fill="#888"/>
</g>
<g transform="translate(698.5 1023.8) rotate(-2.0)">
<ellipse rx="43.5" ry="77.2" fill="#fff" stroke="#1d1d1b" stroke-width="2.0"/>
<ellipse cx="-0.5" cy="0.5" rx="33.9" ry="61.8" fill="none" stroke="#1d1d1b" stroke-width="2.0"/>
<ellipse cx="0.0" cy="1.7" rx="26.8" ry="50.2" fill="none" stroke="#1d1d1b" stroke-width="2.0"/>
<clipPath id="c18"><ellipse cx="1.2" cy="3.6" rx="21.8" ry="38.6"/></clipPath>
<ellipse cx="1.2" cy="3.6" rx="21.8" ry="38.6" fill="#fff" stroke="#1d1d1b" stroke-width="2.0"/>
<g clip-path="url(#c18)" fill="none" stroke="#1d1d1b" stroke-width="0.90">
<path d="M-20.6 -23.0 Q1.2 -26.9 22.9 -23.0"/>
<path d="M-20.6 -9.8 Q1.2 -11.5 22.9 -9.8"/>
<path d="M-20.6 4.4 Q1.2 4.4 22.9 4.4"/>
<path d="M-20.6 17.8 Q1.2 19.3 22.9 17.8"/>
<path d="M-20.6 29.2 Q1.2 32.3 22.9 29.2"/>
<path d="M-7.2 -35.0 Q-26.8 3.6 -10.9 42.2"/>
<path d="M-5.2 -35.0 Q-21.5 3.6 -8.8 42.2"/>
<path d="M-2.8 -35.0 Q-15.2 3.6 -6.5 42.2"/>
<path d="M-0.2 -35.0 Q-8.6 3.6 -3.9 42.2"/>
<path d="M4.4 -35.0 Q3.7 3.6 0.7 42.2"/>
<path d="M8.8 -35.0 Q15.4 3.6 5.1 42.2"/>
<path d="M12.0 -35.0 Q23.6 3.6 8.3 42.2"/>
<path d="M13.9 -35.0 Q28.7 3.6 10.2 42.2"/>
</g>
<path d="M-0.9 -56.4 L-3.5 42.2" stroke="#333" stroke-width="2.00" fill="none"/>
<path d="M-0.9 -56.4 L-3.5 41.2" stroke="#fff" stroke-width="0.90" fill="none"/>
<circle cx="-0.6" cy="-58.4" r="2.0" fill="#fff" stroke="#1d1d1b" stroke-width="1"/>
<path d="M-3.5 41.7 C-3.9 47.1 -5.0 51.8 -4.6 56.2 C-4.3 59.2 -3.1 60.5 -1.2 59.2" stroke="#1d1d1b" stroke-width="2.8" fill="none" stroke-linecap="round"/>
<circle cx="-0.8" cy="57.5" r="2.6" fill="#1d1d1b"/>
<circle cx="-0.3" cy="57.0" r="0.6" fill="#888"/>
</g>
<g transform="translate(272.0 720.9) rotate(-0.5)">
<ellipse rx="45.5" ry="76.7" fill="#fff" stroke="#1d1d1b" stroke-width="2.0"/>
<ellipse cx="-0.5" cy="1.0" rx="35.5" ry="62.0" fill="none" stroke="#1d1d1b" stroke-width="2.0"/>
<ellipse cx="0.0" cy="1.7" rx="28.0" ry="50.4" fill="none" stroke="#1d1d1b" stroke-width="2.0"/>
<clipPath id="c19"><ellipse cx="1.2" cy="3.1" rx="22.8" ry="38.7"/></clipPath>
<ellipse cx="1.2" cy="3.1" rx="22.8" ry="38.7" fill="#fff" stroke="#1d1d1b" stroke-width="2.0"/>
<g clip-path="url(#c19)" fill="none" stroke="#1d1d1b" stroke-width="0.90">
<path d="M-21.6 -23.6 Q1.2 -27.4 23.9 -23.6"/>
<path d="M-21.6 -10.3 Q1.2 -12.0 23.9 -10.3"/>
<path d="M-21.6 3.9 Q1.2 3.9 23.9 3.9"/>
<path d="M-21.6 17.3 Q1.2 18.8 23.9 17.3"/>
<path d="M-21.6 28.8 Q1.2 31.9 23.9 28.8"/>
<path d="M-7.6 -35.6 Q-28.1 3.1 -11.4 41.8"/>
<path d="M-5.4 -35.6 Q-22.5 3.1 -9.3 41.8"/>
<path d="M-2.9 -35.6 Q-15.9 3.1 -6.8 41.8"/>
<path d="M-0.3 -35.6 Q-9.0 3.1 -4.2 41.8"/>
<path d="M4.6 -35.6 Q3.9 3.1 0.7 41.8"/>
<path d="M9.2 -35.6 Q16.1 3.1 5.3 41.8"/>
<path d="M12.4 -35.6 Q24.6 3.1 8.6 41.8"/>
<path d="M14.5 -35.6 Q29.9 3.1 10.6 41.8"/>
</g>
<path d="M-1.2 -56.1 L-3.7 41.8" stroke="#333" stroke-width="2.00" fill="none"/>
<path d="M-1.2 -56.1 L-3.7 40.8" stroke="#fff" stroke-width="0.90" fill="none"/>
<circle cx="-0.9" cy="-58.1" r="2.0" fill="#fff" stroke="#1d1d1b" stroke-width="1"/>
<path d="M-3.7 41.3 C-4.1 46.6 -5.2 51.3 -4.8 55.7 C-4.5 58.7 -3.2 59.9 -1.2 58.7" stroke="#1d1d1b" stroke-width="2.8" fill="none" stroke-linecap="round"/>
<circle cx="-0.8" cy="57.0" r="2.6" fill="#1d1d1b"/>
<circle cx="-0.3" cy="56.5" r="0.6" fill="#888"/>
</g>
<g transform="translate(272.0 873.9) rotate(0.0)">
<ellipse rx="45.5" ry="76.7" fill="#fff" stroke="#1d1d1b" stroke-width="2.0"/>
<ellipse cx="-0.5" cy="1.0" rx="35.5" ry="62.0" fill="none" stroke="#1d1d1b" stroke-width="2.0"/>
<ellipse cx="0.0" cy="1.7" rx="28.0" ry="50.4" fill="none" stroke="#1d1d1b" stroke-width="2.0"/>
<clipPath id="c20"><ellipse cx="1.2" cy="3.1" rx="22.8" ry="38.7"/></clipPath>
<ellipse cx="1.2" cy="3.1" rx="22.8" ry="38.7" fill="#fff" stroke="#1d1d1b" stroke-width="2.0"/>
<g clip-path="url(#c20)" fill="none" stroke="#1d1d1b" stroke-width="0.90">
<path d="M-21.6 -23.6 Q1.2 -27.4 23.9 -23.6"/>
<path d="M-21.6 -10.3 Q1.2 -12.0 23.9 -10.3"/>
<path d="M-21.6 3.9 Q1.2 3.9 23.9 3.9"/>
<path d="M-21.6 17.3 Q1.2 18.8 23.9 17.3"/>
<path d="M-21.6 28.8 Q1.2 31.9 23.9 28.8"/>
<path d="M-7.6 -35.6 Q-28.1 3.1 -11.4 41.8"/>
<path d="M-5.4 -35.6 Q-22.5 3.1 -9.3 41.8"/>
<path d="M-2.9 -35.6 Q-15.9 3.1 -6.8 41.8"/>
<path d="M-0.3 -35.6 Q-9.0 3.1 -4.2 41.8"/>
<path d="M4.6 -35.6 Q3.9 3.1 0.7 41.8"/>
<path d="M9.2 -35.6 Q16.1 3.1 5.3 41.8"/>
<path d="M12.4 -35.6 Q24.6 3.1 8.6 41.8"/>
<path d="M14.5 -35.6 Q29.9 3.1 10.6 41.8"/>
</g>
<path d="M-1.2 -56.1 L-3.7 41.8" stroke="#333" stroke-width="2.00" fill="none"/>
<path d="M-1.2 -56.1 L-3.7 40.8" stroke="#fff" stroke-width="0.90" fill="none"/>
<circle cx="-0.9" cy="-58.1" r="2.0" fill="#fff" stroke="#1d1d1b" stroke-width="1"/>
<path d="M-3.7 41.3 C-4.1 46.6 -5.2 51.3 -4.8 55.7 C-4.5 58.7 -3.2 59.9 -1.2 58.7" stroke="#1d1d1b" stroke-width="2.8" fill="none" stroke-linecap="round"/>
<circle cx="-0.8" cy="57.0" r="2.6" fill="#1d1d1b"/>
<circle cx="-0.3" cy="56.5" r="0.6" fill="#888"/>
</g>
<g transform="translate(272.5 1026.9) rotate(0.5)">
<ellipse rx="45.5" ry="76.7" fill="#fff" stroke="#1d1d1b" stroke-width="2.0"/>
<ellipse cx="-0.5" cy="1.0" rx="35.5" ry="62.0" fill="none" stroke="#1d1d1b" stroke-width="2.0"/>
<ellipse cx="0.0" cy="1.7" rx="28.0" ry="50.4" fill="none" stroke="#1d1d1b" stroke-width="2.0"/>
<clipPath id="c21"><ellipse cx="1.2" cy="3.1" rx="22.8" ry="38.7"/></clipPath>
<ellipse cx="1.2" cy="3.1" rx="22.8" ry="38.7" fill="#fff" stroke="#1d1d1b" stroke-width="2.0"/>
<g clip-path="url(#c21)" fill="none" stroke="#1d1d1b" stroke-width="0.90">
<path d="M-21.6 -23.6 Q1.2 -27.4 23.9 -23.6"/>
<path d="M-21.6 -10.3 Q1.2 -12.0 23.9 -10.3"/>
<path d="M-21.6 3.9 Q1.2 3.9 23.9 3.9"/>
<path d="M-21.6 17.3 Q1.2 18.8 23.9 17.3"/>
<path d="M-21.6 28.8 Q1.2 31.9 23.9 28.8"/>
<path d="M-7.6 -35.6 Q-28.1 3.1 -11.4 41.8"/>
<path d="M-5.4 -35.6 Q-22.5 3.1 -9.3 41.8"/>
<path d="M-2.9 -35.6 Q-15.9 3.1 -6.8 41.8"/>
<path d="M-0.3 -35.6 Q-9.0 3.1 -4.2 41.8"/>
<path d="M4.6 -35.6 Q3.9 3.1 0.7 41.8"/>
<path d="M9.2 -35.6 Q16.1 3.1 5.3 41.8"/>
<path d="M12.4 -35.6 Q24.6 3.1 8.6 41.8"/>
<path d="M14.5 -35.6 Q29.9 3.1 10.6 41.8"/>
</g>
<path d="M-1.2 -56.1 L-3.7 41.8" stroke="#333" stroke-width="2.00" fill="none"/>
<path d="M-1.2 -56.1 L-3.7 40.8" stroke="#fff" stroke-width="0.90" fill="none"/>
<circle cx="-0.9" cy="-58.1" r="2.0" fill="#fff" stroke="#1d1d1b" stroke-width="1"/>
<path d="M-3.7 41.3 C-4.1 46.6 -5.2 51.3 -4.8 55.7 C-4.5 58.7 -3.2 59.9 -1.2 58.7" stroke="#1d1d1b" stroke-width="2.8" fill="none" stroke-linecap="round"/>
<circle cx="-0.8" cy="57.0" r="2.6" fill="#1d1d1b"/>
<circle cx="-0.3" cy="56.5" r="0.6" fill="#888"/>
</g>
<g transform="translate(599.4 713.3) rotate(0.5)">
<ellipse rx="54.0" ry="78.0" fill="#fff" stroke="#1d1d1b" stroke-width="2.0"/>
<ellipse cx="-0.9" cy="-1.0" rx="41.7" ry="61.2" fill="none" stroke="#1d1d1b" stroke-width="2.0"/>
<ellipse cx="0.0" cy="0.7" rx="32.7" ry="50.2" fill="none" stroke="#1d1d1b" stroke-width="2.0"/>
<clipPath id="c22"><ellipse cx="1.8" cy="3.0" rx="26.5" ry="39.0"/></clipPath>
<ellipse cx="1.8" cy="3.0" rx="26.5" ry="39.0" fill="#fff" stroke="#1d1d1b" stroke-width="2.0"/>
<g clip-path="url(#c22)" fill="none" stroke="#1d1d1b" stroke-width="0.90">
<path d="M-24.7 -23.9 Q1.8 -27.8 28.3 -23.9"/>
<path d="M-24.7 -10.5 Q1.8 -12.2 28.3 -10.5"/>
<path d="M-24.7 3.8 Q1.8 3.8 28.3 3.8"/>
<path d="M-24.7 17.3 Q1.8 18.9 28.3 17.3"/>
<path d="M-24.7 28.9 Q1.8 32.0 28.3 28.9"/>
<path d="M-8.4 -36.0 Q-32.3 3.0 -12.9 42.0"/>
<path d="M-5.9 -36.0 Q-25.8 3.0 -10.4 42.0"/>
<path d="M-3.0 -36.0 Q-18.1 3.0 -7.5 42.0"/>
<path d="M0.0 -36.0 Q-10.1 3.0 -4.5 42.0"/>
<path d="M5.7 -36.0 Q4.9 3.0 1.2 42.0"/>
<path d="M11.1 -36.0 Q19.1 3.0 6.6 42.0"/>
<path d="M14.9 -36.0 Q29.1 3.0 10.4 42.0"/>
<path d="M17.2 -36.0 Q35.2 3.0 12.7 42.0"/>
</g>
<path d="M-1.1 -57.3 L-3.9 42.0" stroke="#333" stroke-width="2.00" fill="none"/>
<path d="M-1.1 -57.3 L-3.9 41.0" stroke="#fff" stroke-width="0.90" fill="none"/>
<circle cx="-0.8" cy="-59.3" r="2.0" fill="#fff" stroke="#1d1d1b" stroke-width="1"/>
<path d="M-3.9 41.5 C-4.3 47.0 -6.1 51.9 -5.7 56.4 C-5.4 59.4 -3.8 60.7 -1.4 59.4" stroke="#1d1d1b" stroke-width="2.8" fill="none" stroke-linecap="round"/>
<circle cx="-1.0" cy="57.7" r="2.6" fill="#1d1d1b"/>
<circle cx="-0.5" cy="57.2" r="0.6" fill="#888"/>
</g>
<g transform="translate(599.4 869.3) rotate(0.0)">
<ellipse rx="54.0" ry="78.0" fill="#fff" stroke="#1d1d1b" stroke-width="2.0"/>
<ellipse cx="-0.9" cy="-1.0" rx="41.7" ry="61.2" fill="none" stroke="#1d1d1b" stroke-width="2.0"/>
<ellipse cx="0.0" cy="0.7" rx="32.7" ry="50.2" fill="none" stroke="#1d1d1b" stroke-width="2.0"/>
<clipPath id="c23"><ellipse cx="1.8" cy="3.0" rx="26.5" ry="39.0"/></clipPath>
<ellipse cx="1.8" cy="3.0" rx="26.5" ry="39.0" fill="#fff" stroke="#1d1d1b" stroke-width="2.0"/>
<g clip-path="url(#c23)" fill="none" stroke="#1d1d1b" stroke-width="0.90">
<path d="M-24.7 -23.9 Q1.8 -27.8 28.3 -23.9"/>
<path d="M-24.7 -10.5 Q1.8 -12.2 28.3 -10.5"/>
<path d="M-24.7 3.8 Q1.8 3.8 28.3 3.8"/>
<path d="M-24.7 17.3 Q1.8 18.9 28.3 17.3"/>
<path d="M-24.7 28.9 Q1.8 32.0 28.3 28.9"/>
<path d="M-8.4 -36.0 Q-32.3 3.0 -12.9 42.0"/>
<path d="M-5.9 -36.0 Q-25.8 3.0 -10.4 42.0"/>
<path d="M-3.0 -36.0 Q-18.1 3.0 -7.5 42.0"/>
<path d="M0.0 -36.0 Q-10.1 3.0 -4.5 42.0"/>
<path d="M5.7 -36.0 Q4.9 3.0 1.2 42.0"/>
<path d="M11.1 -36.0 Q19.1 3.0 6.6 42.0"/>
<path d="M14.9 -36.0 Q29.1 3.0 10.4 42.0"/>
<path d="M17.2 -36.0 Q35.2 3.0 12.7 42.0"/>
</g>
<path d="M-1.1 -57.3 L-3.9 42.0" stroke="#333" stroke-width="2.00" fill="none"/>
<path d="M-1.1 -57.3 L-3.9 41.0" stroke="#fff" stroke-width="0.90" fill="none"/>
<circle cx="-0.8" cy="-59.3" r="2.0" fill="#fff" stroke="#1d1d1b" stroke-width="1"/>
<path d="M-3.9 41.5 C-4.3 47.0 -6.1 51.9 -5.7 56.4 C-5.4 59.4 -3.8 60.7 -1.4 59.4" stroke="#1d1d1b" stroke-width="2.8" fill="none" stroke-linecap="round"/>
<circle cx="-1.0" cy="57.7" r="2.6" fill="#1d1d1b"/>
<circle cx="-0.5" cy="57.2" r="0.6" fill="#888"/>
</g>
<g transform="translate(599.4 1025.3) rotate(-0.5)">
<ellipse rx="54.0" ry="78.0" fill="#fff" stroke="#1d1d1b" stroke-width="2.0"/>
<ellipse cx="-0.9" cy="-1.0" rx="41.7" ry="61.2" fill="none" stroke="#1d1d1b" stroke-width="2.0"/>
<ellipse cx="0.0" cy="0.7" rx="32.7" ry="50.2" fill="none" stroke="#1d1d1b" stroke-width="2.0"/>
<clipPath id="c24"><ellipse cx="1.8" cy="3.0" rx="26.5" ry="39.0"/></clipPath>
<ellipse cx="1.8" cy="3.0" rx="26.5" ry="39.0" fill="#fff" stroke="#1d1d1b" stroke-width="2.0"/>
<g clip-path="url(#c24)" fill="none" stroke="#1d1d1b" stroke-width="0.90">
<path d="M-24.7 -23.9 Q1.8 -27.8 28.3 -23.9"/>
<path d="M-24.7 -10.5 Q1.8 -12.2 28.3 -10.5"/>
<path d="M-24.7 3.8 Q1.8 3.8 28.3 3.8"/>
<path d="M-24.7 17.3 Q1.8 18.9 28.3 17.3"/>
<path d="M-24.7 28.9 Q1.8 32.0 28.3 28.9"/>
<path d="M-8.4 -36.0 Q-32.3 3.0 -12.9 42.0"/>
<path d="M-5.9 -36.0 Q-25.8 3.0 -10.4 42.0"/>
<path d="M-3.0 -36.0 Q-18.1 3.0 -7.5 42.0"/>
<path d="M0.0 -36.0 Q-10.1 3.0 -4.5 42.0"/>
<path d="M5.7 -36.0 Q4.9 3.0 1.2 42.0"/>
<path d="M11.1 -36.0 Q19.1 3.0 6.6 42.0"/>
<path d="M14.9 -36.0 Q29.1 3.0 10.4 42.0"/>
<path d="M17.2 -36.0 Q35.2 3.0 12.7 42.0"/>
</g>
<path d="M-1.1 -57.3 L-3.9 42.0" stroke="#333" stroke-width="2.00" fill="none"/>
<path d="M-1.1 -57.3 L-3.9 41.0" stroke="#fff" stroke-width="0.90" fill="none"/>
<circle cx="-0.8" cy="-59.3" r="2.0" fill="#fff" stroke="#1d1d1b" stroke-width="1"/>
<path d="M-3.9 41.5 C-4.3 47.0 -6.1 51.9 -5.7 56.4 C-5.4 59.4 -3.8 60.7 -1.4 59.4" stroke="#1d1d1b" stroke-width="2.8" fill="none" stroke-linecap="round"/>
<circle cx="-1.0" cy="57.7" r="2.6" fill="#1d1d1b"/>
<circle cx="-0.5" cy="57.2" r="0.6" fill="#888"/>
</g>
<g transform="translate(375.6 713.2) rotate(0.0)">
<ellipse rx="55.0" ry="77.7" fill="#fff" stroke="#1d1d1b" stroke-width="2.0"/>
<ellipse cx="-1.2" cy="-1.0" rx="42.2" ry="61.0" fill="none" stroke="#1d1d1b" stroke-width="2.0"/>
<ellipse cx="-1.0" cy="0.8" rx="33.0" ry="50.0" fill="none" stroke="#1d1d1b" stroke-width="2.0"/>
<clipPath id="c25"><ellipse cx="1.7" cy="3.3" rx="26.7" ry="38.9"/></clipPath>
<ellipse cx="1.7" cy="3.3" rx="26.7" ry="38.9" fill="#fff" stroke="#1d1d1b" stroke-width="2.0"/>
<g clip-path="url(#c25)" fill="none" stroke="#1d1d1b" stroke-width="0.90">
<path d="M-25.0 -23.5 Q1.7 -27.4 28.4 -23.5"/>
<path d="M-25.0 -10.1 Q1.7 -11.9 28.4 -10.1"/>
<path d="M-25.0 4.1 Q1.7 4.1 28.4 4.1"/>
<path d="M-25.0 17.6 Q1.7 19.1 28.4 17.6"/>
<path d="M-25.0 29.1 Q1.7 32.2 28.4 29.1"/>
<path d="M-8.6 -35.6 Q-32.7 3.3 -13.1 42.1"/>
<path d="M-6.1 -35.6 Q-26.1 3.3 -10.6 42.1"/>
<path d="M-3.2 -35.6 Q-18.4 3.3 -7.7 42.1"/>
<path d="M-0.1 -35.6 Q-10.3 3.3 -4.6 42.1"/>
<path d="M5.6 -35.6 Q4.8 3.3 1.1 42.1"/>
<path d="M11.1 -35.6 Q19.1 3.3 6.5 42.1"/>
<path d="M14.9 -35.6 Q29.2 3.3 10.4 42.1"/>
<path d="M17.2 -35.6 Q35.4 3.3 12.7 42.1"/>
</g>
<path d="M-2.8 -57.1 L-4.0 42.1" stroke="#333" stroke-width="2.00" fill="none"/>
<path d="M-2.8 -57.1 L-4.0 41.1" stroke="#fff" stroke-width="0.90" fill="none"/>
<circle cx="-2.5" cy="-59.1" r="2.0" fill="#fff" stroke="#1d1d1b" stroke-width="1"/>
<path d="M-4.0 41.6 C-4.4 47.1 -6.2 51.7 -5.8 56.2 C-5.5 59.2 -3.9 60.5 -1.5 59.2" stroke="#1d1d1b" stroke-width="2.8" fill="none" stroke-linecap="round"/>
<circle cx="-1.0" cy="57.5" r="2.6" fill="#1d1d1b"/>
<circle cx="-0.5" cy="57.0" r="0.6" fill="#888"/>
</g>
<g transform="translate(375.6 868.6) rotate(0.0)">
<ellipse rx="55.0" ry="77.7" fill="#fff" stroke="#1d1d1b" stroke-width="2.0"/>
<ellipse cx="-1.2" cy="-1.0" rx="42.2" ry="61.0" fill="none" stroke="#1d1d1b" stroke-width="2.0"/>
<ellipse cx="-1.0" cy="0.8" rx="33.0" ry="50.0" fill="none" stroke="#1d1d1b" stroke-width="2.0"/>
<clipPath id="c26"><ellipse cx="1.7" cy="3.3" rx="26.7" ry="38.9"/></clipPath>
<ellipse cx="1.7" cy="3.3" rx="26.7" ry="38.9" fill="#fff" stroke="#1d1d1b" stroke-width="2.0"/>
<g clip-path="url(#c26)" fill="none" stroke="#1d1d1b" stroke-width="0.90">
<path d="M-25.0 -23.5 Q1.7 -27.4 28.4 -23.5"/>
<path d="M-25.0 -10.1 Q1.7 -11.9 28.4 -10.1"/>
<path d="M-25.0 4.1 Q1.7 4.1 28.4 4.1"/>
<path d="M-25.0 17.6 Q1.7 19.1 28.4 17.6"/>
<path d="M-25.0 29.1 Q1.7 32.2 28.4 29.1"/>
<path d="M-8.6 -35.6 Q-32.7 3.3 -13.1 42.1"/>
<path d="M-6.1 -35.6 Q-26.1 3.3 -10.6 42.1"/>
<path d="M-3.2 -35.6 Q-18.4 3.3 -7.7 42.1"/>
<path d="M-0.1 -35.6 Q-10.3 3.3 -4.6 42.1"/>
<path d="M5.6 -35.6 Q4.8 3.3 1.1 42.1"/>
<path d="M11.1 -35.6 Q19.1 3.3 6.5 42.1"/>
<path d="M14.9 -35.6 Q29.2 3.3 10.4 42.1"/>
<path d="M17.2 -35.6 Q35.4 3.3 12.7 42.1"/>
</g>
<path d="M-2.8 -57.1 L-4.0 42.1" stroke="#333" stroke-width="2.00" fill="none"/>
<path d="M-2.8 -57.1 L-4.0 41.1" stroke="#fff" stroke-width="0.90" fill="none"/>
<circle cx="-2.5" cy="-59.1" r="2.0" fill="#fff" stroke="#1d1d1b" stroke-width="1"/>
<path d="M-4.0 41.6 C-4.4 47.1 -6.2 51.7 -5.8 56.2 C-5.5 59.2 -3.9 60.5 -1.5 59.2" stroke="#1d1d1b" stroke-width="2.8" fill="none" stroke-linecap="round"/>
<circle cx="-1.0" cy="57.5" r="2.6" fill="#1d1d1b"/>
<circle cx="-0.5" cy="57.0" r="0.6" fill="#888"/>
</g>
<g transform="translate(375.6 1024.0) rotate(0.0)">
<ellipse rx="55.0" ry="77.7" fill="#fff" stroke="#1d1d1b" stroke-width="2.0"/>
<ellipse cx="-1.2" cy="-1.0" rx="42.2" ry="61.0" fill="none" stroke="#1d1d1b" stroke-width="2.0"/>
<ellipse cx="-1.0" cy="0.8" rx="33.0" ry="50.0" fill="none" stroke="#1d1d1b" stroke-width="2.0"/>
<clipPath id="c27"><ellipse cx="1.7" cy="3.3" rx="26.7" ry="38.9"/></clipPath>
<ellipse cx="1.7" cy="3.3" rx="26.7" ry="38.9" fill="#fff" stroke="#1d1d1b" stroke-width="2.0"/>
<g clip-path="url(#c27)" fill="none" stroke="#1d1d1b" stroke-width="0.90">
<path d="M-25.0 -23.5 Q1.7 -27.4 28.4 -23.5"/>
<path d="M-25.0 -10.1 Q1.7 -11.9 28.4 -10.1"/>
<path d="M-25.0 4.1 Q1.7 4.1 28.4 4.1"/>
<path d="M-25.0 17.6 Q1.7 19.1 28.4 17.6"/>
<path d="M-25.0 29.1 Q1.7 32.2 28.4 29.1"/>
<path d="M-8.6 -35.6 Q-32.7 3.3 -13.1 42.1"/>
<path d="M-6.1 -35.6 Q-26.1 3.3 -10.6 42.1"/>
<path d="M-3.2 -35.6 Q-18.4 3.3 -7.7 42.1"/>
<path d="M-0.1 -35.6 Q-10.3 3.3 -4.6 42.1"/>
<path d="M5.6 -35.6 Q4.8 3.3 1.1 42.1"/>
<path d="M11.1 -35.6 Q19.1 3.3 6.5 42.1"/>
<path d="M14.9 -35.6 Q29.2 3.3 10.4 42.1"/>
<path d="M17.2 -35.6 Q35.4 3.3 12.7 42.1"/>
</g>
<path d="M-2.8 -57.1 L-4.0 42.1" stroke="#333" stroke-width="2.00" fill="none"/>
<path d="M-2.8 -57.1 L-4.0 41.1" stroke="#fff" stroke-width="0.90" fill="none"/>
<circle cx="-2.5" cy="-59.1" r="2.0" fill="#fff" stroke="#1d1d1b" stroke-width="1"/>
<path d="M-4.0 41.6 C-4.4 47.1 -6.2 51.7 -5.8 56.2 C-5.5 59.2 -3.9 60.5 -1.5 59.2" stroke="#1d1d1b" stroke-width="2.8" fill="none" stroke-linecap="round"/>
<circle cx="-1.0" cy="57.5" r="2.6" fill="#1d1d1b"/>
<circle cx="-0.5" cy="57.0" r="0.6" fill="#888"/>
</g>
<g transform="translate(489.0 713.0) rotate(0.0)">
<ellipse rx="56.0" ry="78.2" fill="#fff" stroke="#1d1d1b" stroke-width="2.0"/>
<ellipse cx="-0.8" cy="-2.5" rx="43.5" ry="60.0" fill="none" stroke="#1d1d1b" stroke-width="2.0"/>
<ellipse cx="0.0" cy="-0.6" rx="35.3" ry="49.8" fill="none" stroke="#1d1d1b" stroke-width="2.0"/>
<clipPath id="c28"><ellipse cx="1.6" cy="1.9" rx="28.0" ry="38.3"/></clipPath>
<ellipse cx="1.6" cy="1.9" rx="28.0" ry="38.3" fill="#fff" stroke="#1d1d1b" stroke-width="2.0"/>
<g clip-path="url(#c28)" fill="none" stroke="#1d1d1b" stroke-width="0.90">
<path d="M-26.4 -24.6 Q1.6 -28.4 29.6 -24.6"/>
<path d="M-26.4 -11.4 Q1.6 -13.1 29.6 -11.4"/>
<path d="M-26.4 2.6 Q1.6 2.6 29.6 2.6"/>
<path d="M-26.4 15.9 Q1.6 17.4 29.6 15.9"/>
<path d="M-26.4 27.3 Q1.6 30.4 29.6 27.3"/>
<path d="M-9.2 -36.5 Q-34.5 1.9 -14.0 40.2"/>
<path d="M-6.6 -36.5 Q-27.6 1.9 -11.3 40.2"/>
<path d="M-3.5 -36.5 Q-19.5 1.9 -8.3 40.2"/>
<path d="M-0.3 -36.5 Q-11.0 1.9 -5.0 40.2"/>
<path d="M5.7 -36.5 Q4.9 1.9 1.0 40.2"/>
<path d="M11.4 -36.5 Q19.9 1.9 6.7 40.2"/>
<path d="M15.4 -36.5 Q30.5 1.9 10.7 40.2"/>
<path d="M17.9 -36.5 Q37.0 1.9 13.2 40.2"/>
</g>
<path d="M-0.9 -57.6 L-4.4 40.2" stroke="#333" stroke-width="2.00" fill="none"/>
<path d="M-0.9 -57.6 L-4.4 39.2" stroke="#fff" stroke-width="0.90" fill="none"/>
<circle cx="-0.6" cy="-59.6" r="2.0" fill="#fff" stroke="#1d1d1b" stroke-width="1"/>
<path d="M-4.4 39.7 C-4.8 45.1 -6.3 52.0 -5.9 56.5 C-5.6 59.5 -3.9 60.8 -1.5 59.5" stroke="#1d1d1b" stroke-width="2.8" fill="none" stroke-linecap="round"/>
<circle cx="-1.0" cy="57.8" r="2.6" fill="#1d1d1b"/>
<circle cx="-0.5" cy="57.3" r="0.6" fill="#888"/>
</g>
<g transform="translate(489.0 869.4) rotate(0.0)">
<ellipse rx="56.0" ry="78.2" fill="#fff" stroke="#1d1d1b" stroke-width="2.0"/>
<ellipse cx="-0.8" cy="-2.5" rx="43.5" ry="60.0" fill="none" stroke="#1d1d1b" stroke-width="2.0"/>
<ellipse cx="0.0" cy="-0.6" rx="35.3" ry="49.8" fill="none" stroke="#1d1d1b" stroke-width="2.0"/>
<clipPath id="c29"><ellipse cx="1.6" cy="1.9" rx="28.0" ry="38.3"/></clipPath>
<ellipse cx="1.6" cy="1.9" rx="28.0" ry="38.3" fill="#fff" stroke="#1d1d1b" stroke-width="2.0"/>
<g clip-path="url(#c29)" fill="none" stroke="#1d1d1b" stroke-width="0.90">
<path d="M-26.4 -24.6 Q1.6 -28.4 29.6 -24.6"/>
<path d="M-26.4 -11.4 Q1.6 -13.1 29.6 -11.4"/>
<path d="M-26.4 2.6 Q1.6 2.6 29.6 2.6"/>
<path d="M-26.4 15.9 Q1.6 17.4 29.6 15.9"/>
<path d="M-26.4 27.3 Q1.6 30.4 29.6 27.3"/>
<path d="M-9.2 -36.5 Q-34.5 1.9 -14.0 40.2"/>
<path d="M-6.6 -36.5 Q-27.6 1.9 -11.3 40.2"/>
<path d="M-3.5 -36.5 Q-19.5 1.9 -8.3 40.2"/>
<path d="M-0.3 -36.5 Q-11.0 1.9 -5.0 40.2"/>
<path d="M5.7 -36.5 Q4.9 1.9 1.0 40.2"/>
<path d="M11.4 -36.5 Q19.9 1.9 6.7 40.2"/>
<path d="M15.4 -36.5 Q30.5 1.9 10.7 40.2"/>
<path d="M17.9 -36.5 Q37.0 1.9 13.2 40.2"/>
</g>
<path d="M-0.9 -57.6 L-4.4 40.2" stroke="#333" stroke-width="2.00" fill="none"/>
<path d="M-0.9 -57.6 L-4.4 39.2" stroke="#fff" stroke-width="0.90" fill="none"/>
<circle cx="-0.6" cy="-59.6" r="2.0" fill="#fff" stroke="#1d1d1b" stroke-width="1"/>
<path d="M-4.4 39.7 C-4.8 45.1 -6.3 52.0 -5.9 56.5 C-5.6 59.5 -3.9 60.8 -1.5 59.5" stroke="#1d1d1b" stroke-width="2.8" fill="none" stroke-linecap="round"/>
<circle cx="-1.0" cy="57.8" r="2.6" fill="#1d1d1b"/>
<circle cx="-0.5" cy="57.3" r="0.6" fill="#888"/>
</g>
<g transform="translate(489.0 1025.8) rotate(0.0)">
<ellipse rx="56.0" ry="78.2" fill="#fff" stroke="#1d1d1b" stroke-width="2.0"/>
<ellipse cx="-0.8" cy="-2.5" rx="43.5" ry="60.0" fill="none" stroke="#1d1d1b" stroke-width="2.0"/>
<ellipse cx="0.0" cy="-0.6" rx="35.3" ry="49.8" fill="none" stroke="#1d1d1b" stroke-width="2.0"/>
<clipPath id="c30"><ellipse cx="1.6" cy="1.9" rx="28.0" ry="38.3"/></clipPath>
<ellipse cx="1.6" cy="1.9" rx="28.0" ry="38.3" fill="#fff" stroke="#1d1d1b" stroke-width="2.0"/>
<g clip-path="url(#c30)" fill="none" stroke="#1d1d1b" stroke-width="0.90">
<path d="M-26.4 -24.6 Q1.6 -28.4 29.6 -24.6"/>
<path d="M-26.4 -11.4 Q1.6 -13.1 29.6 -11.4"/>
<path d="M-26.4 2.6 Q1.6 2.6 29.6 2.6"/>
<path d="M-26.4 15.9 Q1.6 17.4 29.6 15.9"/>
<path d="M-26.4 27.3 Q1.6 30.4 29.6 27.3"/>
<path d="M-9.2 -36.5 Q-34.5 1.9 -14.0 40.2"/>
<path d="M-6.6 -36.5 Q-27.6 1.9 -11.3 40.2"/>
<path d="M-3.5 -36.5 Q-19.5 1.9 -8.3 40.2"/>
<path d="M-0.3 -36.5 Q-11.0 1.9 -5.0 40.2"/>
<path d="M5.7 -36.5 Q4.9 1.9 1.0 40.2"/>
<path d="M11.4 -36.5 Q19.9 1.9 6.7 40.2"/>
<path d="M15.4 -36.5 Q30.5 1.9 10.7 40.2"/>
<path d="M17.9 -36.5 Q37.0 1.9 13.2 40.2"/>
</g>
<path d="M-0.9 -57.6 L-4.4 40.2" stroke="#333" stroke-width="2.00" fill="none"/>
<path d="M-0.9 -57.6 L-4.4 39.2" stroke="#fff" stroke-width="0.90" fill="none"/>
<circle cx="-0.6" cy="-59.6" r="2.0" fill="#fff" stroke="#1d1d1b" stroke-width="1"/>
<path d="M-4.4 39.7 C-4.8 45.1 -6.3 52.0 -5.9 56.5 C-5.6 59.5 -3.9 60.8 -1.5 59.5" stroke="#1d1d1b" stroke-width="2.8" fill="none" stroke-linecap="round"/>
<circle cx="-1.0" cy="57.8" r="2.6" fill="#1d1d1b"/>
<circle cx="-0.5" cy="57.3" r="0.6" fill="#888"/>
</g>
<g transform="translate(61.90 94.60) rotate(90.237)" fill="#1d1d1b"><rect x="16.00" y="-2.50" width="982.31" height="5.00"/><path d="M0 0 L17.00 -9.80 L17.00 9.80 Z"/><path d="M1014.31 0 L997.31 -9.80 L997.31 9.80 Z"/></g>
<g transform="translate(359.80 72.80) rotate(0.342)" fill="#1d1d1b"><rect x="16.00" y="-2.50" width="219.50" height="5.00"/><path d="M0 0 L17.00 -9.80 L17.00 9.80 Z"/><path d="M251.50 0 L234.50 -9.80 L234.50 9.80 Z"/></g>
<g transform="translate(600.40 85.90) rotate(90.000)" fill="#1d1d1b"><rect x="0.00" y="-2.50" width="19.10" height="5.00"/><path d="M34.10 0 L18.10 -9.80 L18.10 9.80 Z"/></g>
<g transform="translate(599.90 185.30) rotate(90.000)" fill="#1d1d1b"><rect x="17.00" y="-2.50" width="19.20" height="5.00"/><path d="M0 0 L18.00 -9.80 L18.00 9.80 Z"/></g>
<g transform="translate(523.60 190.50) rotate(90.143)" fill="#1d1d1b"><rect x="16.00" y="-2.50" width="410.10" height="5.00"/><path d="M0 0 L17.00 -9.80 L17.00 9.80 Z"/><path d="M442.10 0 L425.10 -9.80 L425.10 9.80 Z"/></g>
<g transform="translate(887.40 655.10) rotate(90.170)" fill="#1d1d1b"><rect x="16.00" y="-2.50" width="406.60" height="5.00"/><path d="M0 0 L17.00 -9.80 L17.00 9.80 Z"/><path d="M438.60 0 L421.60 -9.80 L421.60 9.80 Z"/></g>
<g transform="translate(91.90 1135.30) rotate(0.128)" fill="#1d1d1b"><rect x="16.00" y="-2.50" width="730.80" height="5.00"/><path d="M0 0 L17.00 -9.80 L17.00 9.80 Z"/><path d="M762.80 0 L745.80 -9.80 L745.80 9.80 Z"/></g>
<g font-family="Liberation Sans, sans-serif" font-weight="bold" fill="#1d1d1b" stroke="#1d1d1b" stroke-width="0.5" stroke-linejoin="round">
<g transform="translate(448.3 64.8) rotate(0)"><path d="M5.2 -23 L10.2 -23 L10.2 0 L4.3 0 L4.3 -18.2 L1.6 -16.7 L0.2 -20.7 Z" transform="translate(0.0 0)" stroke="none"/><text x="16.2" y="0" font-size="32" textLength="72.2" lengthAdjust="spacingAndGlyphs">2 cm</text></g>
<text x="430.0" y="1169.3" font-size="32" textLength="90.0" lengthAdjust="spacingAndGlyphs">36 cm</text>
<text x="848.3" y="1213.0" font-size="32" textLength="43.7" lengthAdjust="spacingAndGlyphs">+/-</text>
<text x="902.2" y="1213.0" font-size="32" textLength="75.0" lengthAdjust="spacingAndGlyphs">2 cm</text>
<g transform="translate(49.5 648.5) rotate(-90)"><path d="M5.2 -23 L10.2 -23 L10.2 0 L4.3 0 L4.3 -18.2 L1.6 -16.7 L0.2 -20.7 Z" transform="translate(0.0 0)" stroke="none"/><text x="16.8" y="0" font-size="32" textLength="90.7" lengthAdjust="spacingAndGlyphs">37 cm</text></g>
<g transform="translate(554.3 426.3) rotate(-90)"><path d="M5.2 -23 L10.2 -23 L10.2 0 L4.3 0 L4.3 -18.2 L1.6 -16.7 L0.2 -20.7 Z" transform="translate(0.0 0)" stroke="none"/><path d="M5.2 -23 L10.2 -23 L10.2 0 L4.3 0 L4.3 -18.2 L1.6 -16.7 L0.2 -20.7 Z" transform="translate(18.2 0)" stroke="none"/><text x="35.4" y="0" font-size="32" textLength="71.5" lengthAdjust="spacingAndGlyphs">5 cm</text></g>
<text transform="translate(637.5 188.6) rotate(-90)" font-size="32" textLength="69.5" lengthAdjust="spacingAndGlyphs">3 cm</text>
<g transform="translate(919.5 918.0) rotate(-90)"><path d="M5.2 -23 L10.2 -23 L10.2 0 L4.3 0 L4.3 -18.2 L1.6 -16.7 L0.2 -20.7 Z" transform="translate(0.0 0)" stroke="none"/><text x="16.6" y="0" font-size="32" textLength="70.7" lengthAdjust="spacingAndGlyphs">9 cm</text></g>
</g>
</svg>
</body></html>
